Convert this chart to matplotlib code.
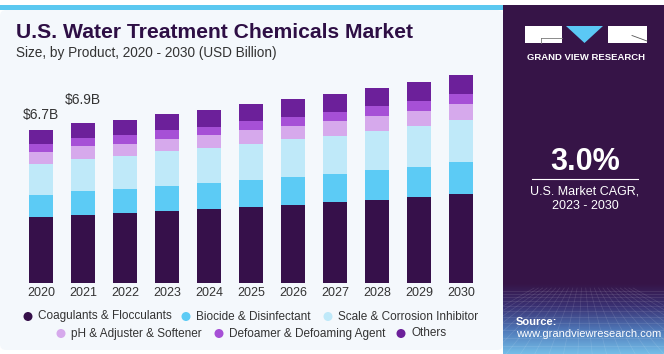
import numpy as np
import matplotlib
matplotlib.use('Agg')
import matplotlib.pyplot as plt
from matplotlib.patches import Rectangle, Polygon, Circle, FancyBboxPatch
from matplotlib.colors import LinearSegmentedColormap

plt.rcParams['font.family'] = ['Liberation Sans', 'DejaVu Sans']

# Data (USD billion)
years = ['2020', '2021', '2022', '2023', '2024', '2025', '2026', '2027', '2028', '2029', '2030']
coagulants = [2.88, 2.98, 3.06, 3.17, 3.25, 3.35, 3.44, 3.54, 3.65, 3.77, 3.92]
biocide = [0.99, 1.05, 1.06, 1.09, 1.14, 1.16, 1.21, 1.24, 1.30, 1.31, 1.38]
scale_inhib = [1.35, 1.41, 1.44, 1.51, 1.51, 1.59, 1.63, 1.66, 1.70, 1.79, 1.83]
ph_adjuster = [0.52, 0.54, 0.54, 0.55, 0.57, 0.58, 0.60, 0.63, 0.66, 0.67, 0.70]
defoamer = [0.33, 0.35, 0.36, 0.36, 0.36, 0.41, 0.39, 0.42, 0.44, 0.42, 0.44]
others = [0.61, 0.66, 0.66, 0.70, 0.73, 0.73, 0.77, 0.76, 0.77, 0.83, 0.84]

series_names = ['Coagulants & Flocculants', 'Biocide & Disinfectant', 'Scale & Corrosion Inhibitor',
                'pH & Adjuster & Softener', 'Defoamer & Defoaming Agent', 'Others']
series_values = [coagulants, biocide, scale_inhib, ph_adjuster, defoamer, others]
colors = ['#36104a', '#5ccbf5', '#bfe9f9', '#d6a9ec', '#a650d6', '#6c209a']

label_years = ['2020', '2021']
label_texts = ['$6.7B', '$6.9B']
label_offsets = [11, 17]

W, H = 664, 354
fig = plt.figure(figsize=(W / 100, H / 100), dpi=100)
fig.patch.set_facecolor('white')

# background axes in pixel coordinates (y down)
bg = fig.add_axes([0, 0, 1, 1])
bg.set_xlim(0, W)
bg.set_ylim(H, 0)
bg.axis('off')

bg.add_patch(FancyBboxPatch((0, 10), 503, 340, boxstyle='round,pad=0,rounding_size=6',
                            facecolor='#f4f8fc', edgecolor='none'))
bg.add_patch(Rectangle((0, 5), 503, 5, facecolor='#5bc8f0', edgecolor='none'))

# right panel
bg.add_patch(Rectangle((503, 5), W - 503, H - 5, facecolor='#361447', edgecolor='none'))
cmap = LinearSegmentedColormap.from_list('g', ['#361447', '#3a3274', '#4f78b8', '#74bde8'])
grad = np.linspace(0, 1, 100).reshape(-1, 1)
bg.imshow(grad, cmap=cmap, extent=[503, W, H, 283], aspect='auto', zorder=1)
# faint perspective mesh
for k in range(1, 12):
    y = 290 + (k ** 1.6) * 1.2
    bg.plot([503, W], [y, y], color='white', alpha=0.12, lw=0.5, zorder=2)
for x0 in np.linspace(420, 750, 24):
    bg.plot([583 + (x0 - 583) * 0.3, x0], [288, H], color='white', alpha=0.12, lw=0.5, zorder=2)
bg.set_xlim(0, W)
bg.set_ylim(H, 0)

# logo
bg.add_patch(Rectangle((525, 26), 37, 17, facecolor='white', edgecolor='none', zorder=3))
bg.plot([541, 562], [37.5, 37.5], color='#777777', lw=0.6, zorder=4)
bg.plot([541, 541], [37.5, 43], color='#777777', lw=0.6, zorder=4)
bg.add_patch(Polygon([(566, 26), (603, 26), (584.5, 43)], facecolor='#5bc8f5', edgecolor='none', zorder=3))
bg.add_patch(Rectangle((608, 26), 39, 17, facecolor='white', edgecolor='none', zorder=3))
bg.plot([632, 647], [35.5, 41], color='#555555', lw=0.6, zorder=4)
bg.text(586, 57, 'GRAND VIEW RESEARCH', color='white', fontsize=6.8, fontweight='bold',
        ha='center', va='center', zorder=4)

bg.text(585, 162, '3.0%', color='white', fontsize=22, fontweight='bold', ha='center', va='center', zorder=4)
bg.plot([532, 638], [179, 179], color='white', lw=0.8, zorder=4)
bg.text(585, 192, 'U.S. Market CAGR,', color='white', fontsize=9, ha='center', va='center', zorder=4)
bg.text(585, 206, '2023 - 2030', color='white', fontsize=9, ha='center', va='center', zorder=4)
bg.text(516, 322, 'Source:', color='white', fontsize=8, fontweight='bold', ha='left', va='center', zorder=4)
bg.text(516, 334, 'www.grandviewresearch.com', color='white', fontsize=8, ha='left', va='center', zorder=4)

# titles
bg.text(16, 33, 'U.S. Water Treatment Chemicals Market', color='#2e0f45', fontsize=15.2,
        fontweight='bold', ha='left', va='center')
bg.text(16, 53, 'Size, by Product, 2020 - 2030 (USD Billion)', color='#333333', fontsize=9.8,
        ha='left', va='center')

# legend (manual, two centred rows)
legend_pos = [(28, 316.5), (186, 316.5), (328, 316.5), (61, 333.5), (219, 333.5), (401, 333.5)]
for (lx, ly), name, c in zip(legend_pos, series_names, colors):
    bg.add_patch(Circle((lx, ly), 4.5, facecolor=c, edgecolor='none'))
    bg.text(lx + 10, ly, name, color='#333333', fontsize=8.5, ha='left', va='center')

# chart
base_y = 283.3
ax = fig.add_axes([20 / W, (H - base_y) / H, 462 / W, (base_y - 60) / H])
ax.patch.set_alpha(0)
x = np.arange(len(years))
bottom = np.zeros(len(years))
for vals, c in zip(series_values, colors):
    ax.bar(x, vals, width=0.57, bottom=bottom, color=c, edgecolor='none')
    bottom += np.array(vals)

for yr, txt, off in zip(label_years, label_texts, label_offsets):
    i = years.index(yr)
    ax.annotate(txt, (i, bottom[i]), xytext=(0, off), textcoords='offset points',
                ha='center', va='center', fontsize=10, color='#333333')

ax.set_xlim(-0.5, len(years) - 0.5)
ax.set_ylim(0, 9.75)
ax.set_xticks(x)
ax.set_xticklabels(years, fontsize=9, color='#333333')
ax.tick_params(axis='x', length=0, pad=3)
ax.set_yticks([])
for s in ax.spines.values():
    s.set_visible(False)

plt.savefig('out.png', dpi=100, facecolor=fig.get_facecolor())
